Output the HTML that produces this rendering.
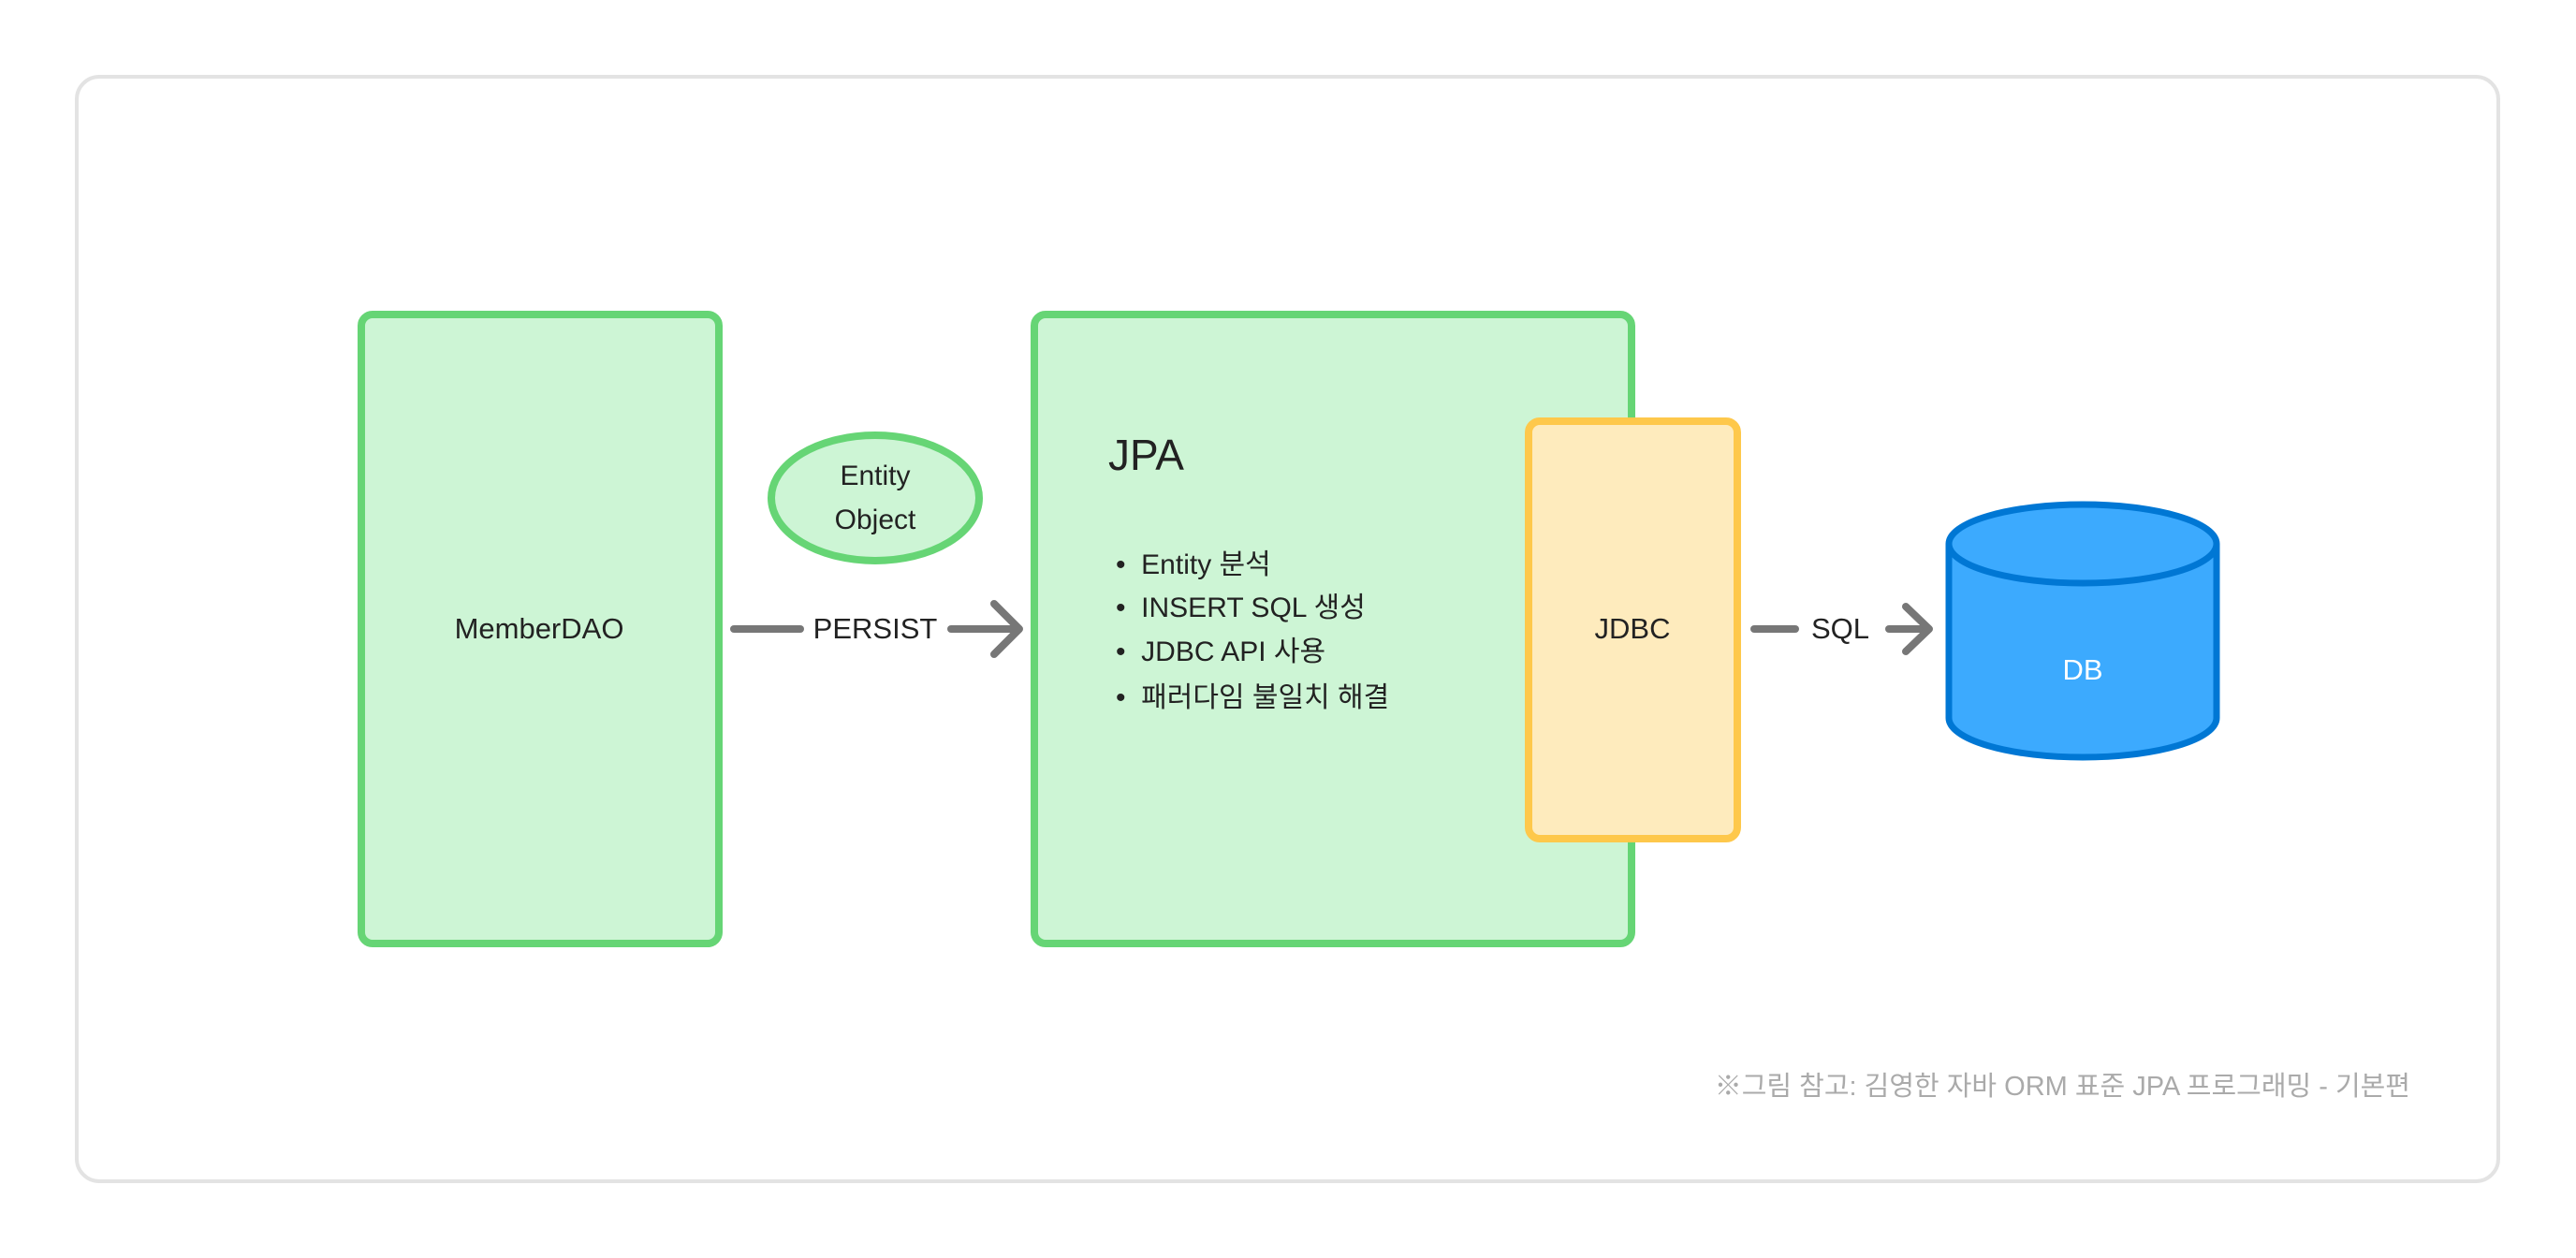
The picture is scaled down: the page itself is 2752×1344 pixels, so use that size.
<!DOCTYPE html>
<html><head><meta charset="utf-8"><style>
html,body{margin:0;padding:0;background:#fff;}
body{width:2752px;height:1344px;position:relative;overflow:hidden;font-family:"Liberation Sans","Noto Sans CJK KR",sans-serif;color:#222;}
.t{position:absolute;white-space:nowrap;}
</style></head><body>
<svg width="2752" height="1344" style="position:absolute;left:0;top:0">
<rect x="82" y="82" width="2587" height="1180" rx="24" fill="#fff" stroke="#e3e3e3" stroke-width="4"/>
<rect x="386" y="336" width="382" height="672" rx="12" fill="#cdf5d5" stroke="#66d575" stroke-width="8"/>
<rect x="1105" y="336" width="638" height="672" rx="12" fill="#cdf5d5" stroke="#66d575" stroke-width="8"/>
<rect x="1633" y="450" width="223" height="446" rx="12" fill="#feebbd" stroke="#fec84b" stroke-width="8"/>
<ellipse cx="935" cy="532" rx="111" ry="67" fill="#cdf5d5" stroke="#66d575" stroke-width="8"/>
<g stroke="#777" stroke-width="8" stroke-linecap="round" fill="none" stroke-linejoin="round">
<line x1="784" y1="672" x2="855" y2="672"/>
<line x1="1016" y1="672" x2="1088" y2="672"/>
<polyline points="1062,645 1089,672 1062,699"/>
<line x1="1874" y1="672" x2="1918" y2="672"/>
<line x1="2018" y1="672" x2="2060" y2="672"/>
<polyline points="2036,648 2061,672 2036,696"/>
</g>
<path d="M2082,581 L2082,767 A143,42 0 0 0 2368,767 L2368,581" fill="#3caafe" stroke="#0077d4" stroke-width="7"/>
<ellipse cx="2225" cy="581" rx="143" ry="42" fill="#3caafe" stroke="#0077d4" stroke-width="7"/>
</svg>
<div class="t" style="left:576px;top:672px;transform:translate(-50%,-50%);font-size:31px;">MemberDAO</div>
<div class="t" style="left:935px;top:509px;transform:translate(-50%,-50%);font-size:30px;">Entity</div>
<div class="t" style="left:935px;top:556px;transform:translate(-50%,-50%);font-size:30px;">Object</div>
<div class="t" style="left:935px;top:672px;transform:translate(-50%,-50%);font-size:31px;">PERSIST</div>
<div class="t" style="left:1184px;top:486px;transform:translate(0,-50%);font-size:46px;">JPA</div>
<div class="t" style="left:1192px;top:600px;transform:translate(0,-50%);font-size:30px;">•&nbsp; Entity 분석</div>
<div class="t" style="left:1192px;top:646px;transform:translate(0,-50%);font-size:30px;">•&nbsp; INSERT SQL 생성</div>
<div class="t" style="left:1192px;top:693px;transform:translate(0,-50%);font-size:30px;">•&nbsp; JDBC API 사용</div>
<div class="t" style="left:1192px;top:742px;transform:translate(0,-50%);font-size:30px;">•&nbsp; 패러다임 불일치 해결</div>
<div class="t" style="left:1744px;top:672px;transform:translate(-50%,-50%);font-size:31px;">JDBC</div>
<div class="t" style="left:1966px;top:672px;transform:translate(-50%,-50%);font-size:31px;">SQL</div>
<div class="t" style="left:2225px;top:716px;transform:translate(-50%,-50%);font-size:31px;color:#fff;">DB</div>
<div class="t" style="right:177px;top:1158px;transform:translate(0,-50%);font-size:29px;color:#aaa;">※그림 참고: 김영한 자바 ORM 표준 JPA 프로그래밍 - 기본편</div>
</body></html>
